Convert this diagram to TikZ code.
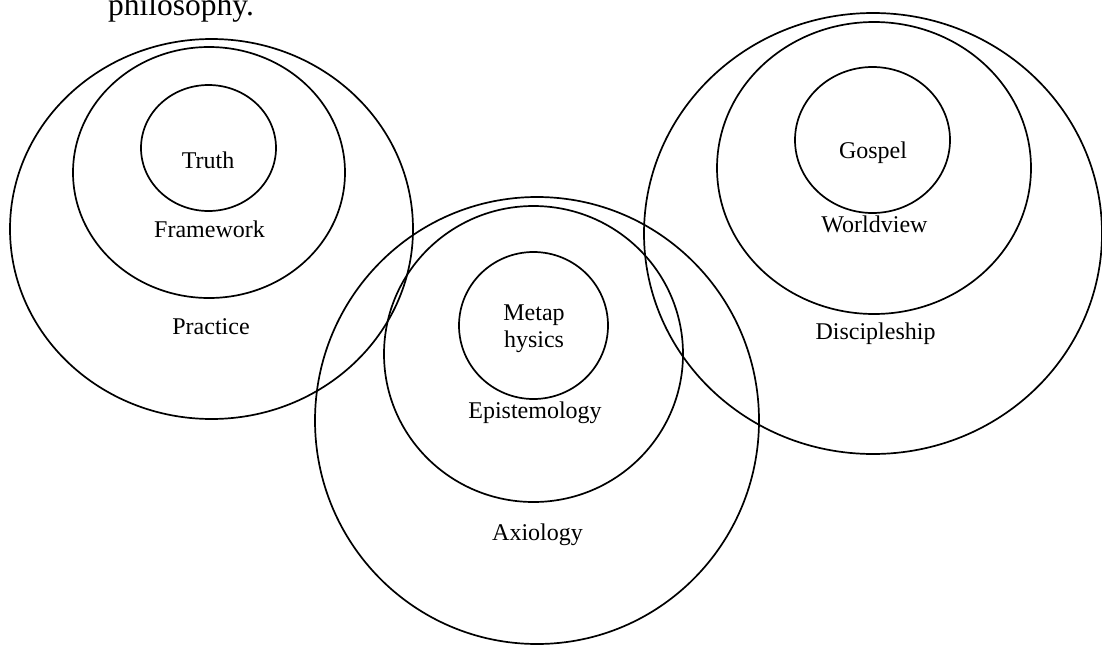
\documentclass[tikz,border=0pt]{standalone}
\usepackage{fontspec}
\setmainfont{Liberation Serif}
\usetikzlibrary{shapes.geometric}
\begin{document}
\begin{tikzpicture}[x=1pt,y=-1pt]
\tikzset{
ring/.style={ellipse,draw,line width=1.7pt,inner sep=0pt},
ring text/.style={anchor=base,inner sep=0pt,font=\fontsize{24}{27}\selectfont,align=center}
}
\useasboundingbox (0,0) rectangle (1102,648);

\node(caption)[anchor=base west,inner sep=0pt,font=\fontsize{31.5}{34}\selectfont] at (108,15) {philosophy.};

% left group
\node(practice)[ring,minimum width=403pt,minimum height=380pt] at (211.5,229) {};
\node(framework)[ring,minimum width=272pt,minimum height=251pt] at (209,172.5) {};
\node(truth)[ring,minimum width=135pt,minimum height=126pt] at (208.5,148) {};
\node(truth text)[ring text] at (208,168) {Truth};
\node(framework text)[ring text] at (209.5,237) {Framework};
\node(practice text)[ring text] at (211,334) {Practice};

% middle group
\node(axiology)[ring,minimum width=444pt,minimum height=447pt] at (537,420.5) {};
\node(epistemology)[ring,minimum width=299pt,minimum height=296pt] at (533.5,354) {};
\node(metaphysics)[ring,minimum width=149pt,minimum height=147pt] at (533.5,325.5) {};
\node(metaphysics text)[ring text] at (534,347) {Metap\\hysics};
\node(epistemology text)[ring text] at (535,418) {Epistemology};
\node(axiology text)[ring text] at (537.5,540) {Axiology};

% right group
\node(discipleship)[ring,minimum width=458pt,minimum height=441pt] at (873,233.5) {};
\node(worldview)[ring,minimum width=314pt,minimum height=292pt] at (874,168) {};
\node(gospel)[ring,minimum width=155pt,minimum height=146pt] at (872.5,140) {};
\node(gospel text)[ring text] at (873,158) {Gospel};
\node(worldview text)[ring text] at (874.5,232) {Worldview};
\node(discipleship text)[ring text] at (875.5,339) {Discipleship};
\end{tikzpicture}
\end{document}
